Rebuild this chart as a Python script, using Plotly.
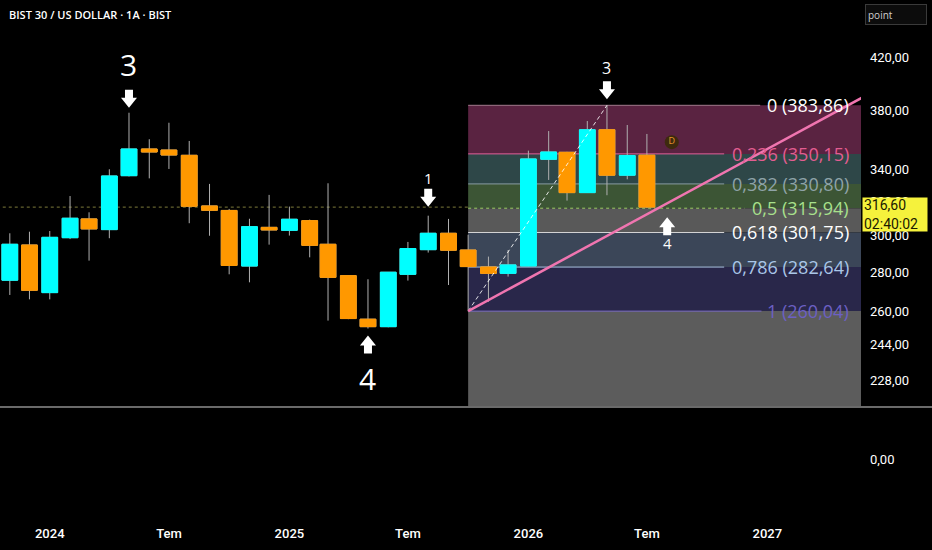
import numpy as np
import plotly.graph_objects as go

# monthly candles, BIST 30 / US DOLLAR
dates = ["2023-11-01", "2023-12-01",
         "2024-01-01", "2024-02-01", "2024-03-01", "2024-04-01", "2024-05-01", "2024-06-01",
         "2024-07-01", "2024-08-01", "2024-09-01", "2024-10-01", "2024-11-01", "2024-12-01",
         "2025-01-01", "2025-02-01", "2025-03-01", "2025-04-01", "2025-05-01", "2025-06-01",
         "2025-07-01", "2025-08-01", "2025-09-01", "2025-10-01", "2025-11-01", "2025-12-01",
         "2026-01-01", "2026-02-01", "2026-03-01", "2026-04-01", "2026-05-01", "2026-06-01",
         "2026-07-01"]
opens = [275.7, 294.7, 269.3, 298.8, 309.6, 303.4, 336.0, 353.4, 352.7, 349.2, 317.3,
         314.6, 283.2, 304.7, 303.0, 308.6, 295.1, 278.1, 256.1, 252.5, 278.8, 292.1,
         301.3, 291.9, 282.7, 279.3, 283.2, 346.6, 351.2, 325.4, 366.5, 336.3, 349.3]
highs = [301.3, 302.2, 302.6, 323.3, 313.5, 340.1, 378.5, 360.0, 371.4, 358.8, 330.8,
         315.5, 309.7, 324.0, 316.9, 309.2, 331.2, 278.4, 276.2, 280.0, 296.4, 311.5,
         309.6, 300.5, 288.3, 291.9, 352.3, 365.6, 351.5, 372.6, 383.86, 369.8, 363.6]
lows = [268.1, 265.9, 265.9, 298.0, 286.1, 298.5, 335.5, 334.3, 340.3, 307.1, 299.9,
        278.8, 274.6, 294.9, 300.0, 287.9, 255.4, 256.1, 251.6, 252.2, 275.5, 290.5,
        273.2, 260.04, 264.7, 277.6, 283.0, 333.3, 320.5, 325.2, 323.8, 333.7, 316.0]
closes = [295.1, 270.5, 299.0, 310.0, 303.8, 335.8, 353.4, 351.4, 349.4, 317.1, 314.7,
          283.5, 305.1, 303.2, 309.4, 294.5, 277.2, 256.4, 252.5, 279.9, 292.7, 301.3,
          291.8, 282.9, 279.3, 283.8, 346.8, 351.4, 325.4, 366.5, 336.3, 349.0, 316.6]

last_price = 316.60
countdown = "02:40:02"

# fibonacci retracement (log) from the Oct 2025 low to the May 2026 high
fib_ratios = ["0", "0,236", "0,382", "0,5", "0,618", "0,786", "1"]
fib_prices = [383.86, 350.15, 330.80, 315.94, 301.75, 282.64, 260.04]
fib_start = "2025-10-01"
fib_top_date = "2026-05-01"

# trend line from the fib low
trend_dates = ["2025-10-01", "2027-06-01"]
trend_prices = [260.04, 391.1]

# wave counts
wave_text = ["3", "4", "1", "3", "4"]
wave_dates = ["2024-05-01", "2025-05-01", "2025-08-01", "2026-05-01", "2026-08-01"]
wave_prices = [highs[6], lows[18], highs[21], highs[30], 310.6]

price_ticks = [228, 244, 260, 280, 300, 320, 340, 380, 420]
price_labels = [f"{v:.2f}".replace(".", ",") for v in price_ticks]
month_ticks = ["2024-01-01", "2024-07-01", "2025-01-01", "2025-07-01",
               "2026-01-01", "2026-07-01", "2027-01-01"]
month_labels = ["2024", "Tem", "2025", "Tem", "2026", "Tem", "2027"]

# styling
UP = "#00ffff"
DOWN = "#ff9800"
WICK = "#b0b0b0"
FONT = "Open Sans"
zone_colors = ["#5a2341", "#2e4748", "#3c5535", "#595959", "#3b4658", "#29274a", "#5c5c5c"]
line_colors = ["#a27a8c", "#e0609a", "#8a9ca3", "#9ccc65", "#d6d6d6", "#a9c0dd", "#7a6ac4"]
label_colors = ["#ffffff", "#e35d91", "#8fa3a8", "#a8e08c", "#ffffff", "#a9c6e8", "#6c60c4"]
line_ends = ["2026-12-21", "2026-10-27", "2026-10-27", "2026-11-27",
             "2026-10-27", "2026-10-27", "2026-12-23"]
wave_dir = ["down", "up", "down", "down", "up"]
wave_gap = [5, 7, 9, 6, 0]
wave_shift = [48, -50, 38, 37, -26]
wave_size = [30, 30, 15, 16, 15]

W, H = 932, 550
plot_right = 861 / W
pane_bottom = 1 - 406 / H

fig = go.Figure()

# full candles: grey wicks
fig.add_trace(go.Candlestick(
    x=dates, open=opens, high=highs, low=lows, close=closes,
    increasing=dict(line=dict(color=WICK, width=1), fillcolor=UP),
    decreasing=dict(line=dict(color=WICK, width=1), fillcolor=DOWN),
    hoverinfo="skip", showlegend=False))

# bodies on top, so the outline takes the body colour
body_hi = [max(o, c) for o, c in zip(opens, closes)]
body_lo = [min(o, c) for o, c in zip(opens, closes)]
fig.add_trace(go.Candlestick(
    x=dates, open=opens, high=body_hi, low=body_lo, close=closes,
    increasing=dict(line=dict(color=UP, width=1), fillcolor=UP),
    decreasing=dict(line=dict(color=DOWN, width=1), fillcolor=DOWN),
    hoverinfo="skip", showlegend=False))

# dashed fib connector
fig.add_trace(go.Scatter(
    x=[fib_start, fib_top_date], y=[fib_prices[-1], fib_prices[0]],
    mode="lines", line=dict(color="rgba(255,255,255,0.85)", width=1, dash="4px,3px"),
    hoverinfo="skip", showlegend=False))

# pink trend line
fig.add_trace(go.Scatter(
    x=trend_dates, y=trend_prices, mode="lines",
    line=dict(color="#f075b0", width=2.5), hoverinfo="skip", showlegend=False))

# "D" badge
fig.add_trace(go.Scatter(
    x=["2026-08-08"], y=[358.0], mode="markers+text", text=["D"],
    textposition="middle center", textfont=dict(color="#e8962a", size=9, family=FONT),
    marker=dict(size=14, color="#3e2a0e"), hoverinfo="skip", showlegend=False))

# empty lower pane (keeps the bottom axes alive)
fig.add_trace(go.Scatter(
    x=[dates[0]], y=[0], mode="markers", marker=dict(opacity=0),
    xaxis="x2", yaxis="y2", hoverinfo="skip", showlegend=False))

shapes = []
# price line
shapes.append(dict(type="line", xref="x", yref="y", x0="2023-01-01", x1="2028-01-01",
                   y0=last_price, y1=last_price, layer="below",
                   line=dict(color="#7c7a3a", width=1, dash="dot")))
# fib zones
zone_edges = fib_prices + [150]
for i, col in enumerate(zone_colors):
    shapes.append(dict(type="rect", xref="x", yref="y", x0=fib_start, x1="2027-09-01",
                       y0=zone_edges[i + 1], y1=zone_edges[i], fillcolor=col,
                       line=dict(width=0), layer="below"))
# fib level lines
for i, p in enumerate(fib_prices):
    shapes.append(dict(type="line", xref="x", yref="y", x0=fib_start, x1=line_ends[i],
                       y0=p, y1=p, layer="below",
                       line=dict(color=line_colors[i], width=1,
                                 dash="dot" if fib_ratios[i] == "0,5" else "solid")))


def arrow_path(direction, gap):
    s = 1 if direction == "down" else -1
    pts = [(0, gap), (8, gap + 10), (4, gap + 10), (4, gap + 18),
           (-4, gap + 18), (-4, gap + 10), (-8, gap + 10)]
    return "M" + " L".join(f"{x},{s * y}" for x, y in pts) + " Z"


annotations = []
for i, t in enumerate(wave_text):
    shapes.append(dict(type="path", xref="x", yref="y", xsizemode="pixel", ysizemode="pixel",
                       xanchor=wave_dates[i], yanchor=wave_prices[i],
                       path=arrow_path(wave_dir[i], wave_gap[i]),
                       fillcolor="#ffffff", line=dict(width=0)))
    annotations.append(dict(x=wave_dates[i], y=np.log10(wave_prices[i]), xref="x", yref="y",
                            text=t, showarrow=False, yshift=wave_shift[i],
                            font=dict(color="#ffffff", size=wave_size[i], family=FONT)))

# fib labels
for i, p in enumerate(fib_prices):
    annotations.append(dict(x=851 / W, xref="paper", xanchor="right",
                            y=np.log10(p), yref="y", yanchor="middle",
                            text=f"{fib_ratios[i]} ({p:.2f})".replace(".", ","),
                            showarrow=False,
                            font=dict(color=label_colors[i], size=18, family=FONT)))

# pane separator
shapes.append(dict(type="line", xref="paper", yref="paper", x0=0, x1=1,
                   y0=1 - 407 / H, y1=1 - 407 / H, line=dict(color="#6a6a6a", width=2)))

# header and price badge
annotations.append(dict(x=7 / W, y=1 - 5 / H, xref="paper", yref="paper",
                        xanchor="left", yanchor="top", showarrow=False,
                        text="BIST 30 / US DOLLAR · 1A · BIST",
                        font=dict(color="#ffffff", size=11, family=FONT, weight=600)))
annotations.append(dict(x=865 / W, y=1 - 4 / H, xref="paper", yref="paper",
                        xanchor="left", yanchor="top", showarrow=False, align="left",
                        text="point", width=56, height=15, borderpad=2,
                        bgcolor="#0c0c0c", bordercolor="#3a3a3a", borderwidth=1,
                        font=dict(color="#d0d0d0", size=10, family=FONT)))
annotations.append(dict(x=862 / W, y=1 - 214.5 / H, xref="paper", yref="paper",
                        xanchor="left", yanchor="middle", showarrow=False, align="left",
                        text=f"{last_price:.2f}".replace(".", ",") + "<br>" + countdown,
                        bgcolor="#f5f23c", borderpad=1, width=62, height=31,
                        font=dict(color="#1a1a00", size=14, family="Roboto")))

fig.update_layout(
    width=W, height=H,
    margin=dict(l=0, r=0, t=0, b=0),
    paper_bgcolor="#000000", plot_bgcolor="#000000",
    boxgap=0.14, boxgroupgap=0,
    hovermode=False, showlegend=False,
    shapes=shapes, annotations=annotations,
    xaxis=dict(domain=[0, plot_right], anchor="y", type="date",
               range=["2023-10-17", "2027-05-24"], showticklabels=False,
               showgrid=False, zeroline=False, showline=False,
               rangeslider=dict(visible=False)),
    yaxis=dict(domain=[pane_bottom, 1], anchor="x", type="log", side="right",
               range=[np.log10(217.3), np.log10(468.5)],
               tickvals=price_ticks, ticktext=price_labels, ticklabelstandoff=8,
               tickfont=dict(color="#ffffff", size=13, family="Roboto"),
               showgrid=False, zeroline=False, showline=False, automargin=False),
    xaxis2=dict(domain=[0, plot_right], anchor="y2", type="date", matches="x",
                tickvals=month_ticks, ticktext=month_labels,
                tickfont=dict(color="#ffffff", size=13, family="Roboto", weight=500),
                showgrid=False, zeroline=False, showline=False, automargin=False,
                rangeslider=dict(visible=False)),
    yaxis2=dict(domain=[26 / H, 141 / H], anchor="x2", side="right",
                range=[-0.5652, 0.4348], tickvals=[0], ticktext=["0,00"],
                ticklabelstandoff=8,
                tickfont=dict(color="#ffffff", size=13, family="Roboto"),
                showgrid=False, zeroline=False, showline=False, automargin=False),
)

fig.write_html("out.html", config={"displayModeBar": False},
               post_script="document.body.style.margin='0';")
